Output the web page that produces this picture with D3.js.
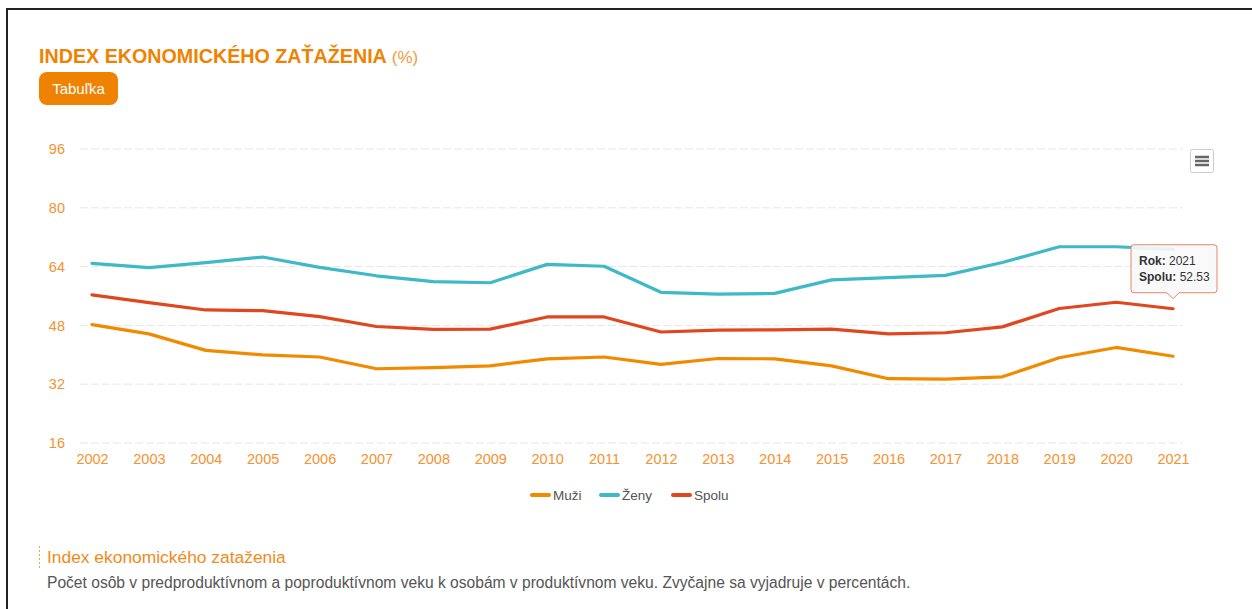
<!DOCTYPE html>
<html>
<head>
<meta charset="utf-8">
<script src="https://cdn.jsdelivr.net/npm/d3@7"></script>
<style>
    html, body { margin: 0; padding: 0; background: #fff; }
    body { width: 1252px; height: 609px; overflow: hidden; }
    svg { display: block; font-family: "Liberation Sans", Arial, Helvetica, sans-serif; }
</style>
</head>
<body>
<svg id="chart" width="1252" height="609"></svg>
<script>
// data
const years = [2002, 2003, 2004, 2005, 2006, 2007, 2008, 2009, 2010, 2011,
               2012, 2013, 2014, 2015, 2016, 2017, 2018, 2019, 2020, 2021];
const muzi  = [48.2, 45.7, 41.2, 40.0, 39.4, 36.2, 36.5, 37.0, 38.9, 39.4,
               37.4, 39.0, 38.9, 37.0, 33.5, 33.4, 34.0, 39.2, 42.0, 39.6];
const zeny  = [64.9, 63.7, 65.1, 66.6, 63.8, 61.5, 59.9, 59.6, 64.6, 64.1,
               57.0, 56.5, 56.7, 60.4, 61.0, 61.6, 65.1, 69.4, 69.4, 68.7];
const spolu = [56.3, 54.2, 52.2, 52.0, 50.4, 47.7, 46.9, 47.0, 50.3, 50.3,
               46.2, 46.7, 46.8, 47.0, 45.7, 46.0, 47.6, 52.6, 54.3, 52.53];
const yTicks = [16, 32, 48, 64, 80, 96];
const seriesNames = ['Muži', 'Ženy', 'Spolu'];
const seriesColors = ['#f28a00', '#3fb8c8', '#e0471f'];

const series = [muzi, zeny, spolu].map((vals, i) => ({
    name: seriesNames[i],
    color: seriesColors[i],
    values: vals.map((v, j) => ({year: years[j], value: v}))
}));

const orange = '#ef8200';
const labelColor = '#f5922f';

const svg = d3.select('#chart');

// frame
svg.append('path')
    .attr('d', 'M7,612 L7,9 L1260,9')
    .attr('fill', 'none')
    .attr('stroke', '#222')
    .attr('stroke-width', 2);

// title + button
const title = svg.append('text')
    .attr('x', 39).attr('y', 63)
    .attr('fill', orange)
    .style('font-size', '19.7px')
    .style('font-weight', 'bold');
title.append('tspan').text('INDEX EKONOMICKÉHO ZAŤAŽENIA');
title.append('tspan')
    .attr('dx', 5)
    .style('font-weight', 'normal')
    .style('font-size', '17px')
    .attr('fill', '#f39a3c')
    .text('(%)');

svg.append('rect')
    .attr('x', 39).attr('y', 72)
    .attr('width', 79).attr('height', 33)
    .attr('rx', 8)
    .attr('fill', orange);
svg.append('text')
    .attr('x', 78.5).attr('y', 94)
    .attr('text-anchor', 'middle')
    .attr('fill', '#fff')
    .style('font-size', '15px')
    .text('Tabuľka');

// scales
const x = d3.scalePoint().domain(years).range([92, 1173]);
const y = d3.scaleLinear().domain([16, 96]).range([443, 149]);

// grid
svg.append('g')
    .selectAll('line')
    .data(yTicks).enter()
    .append('line')
    .attr('x1', 80).attr('x2', 1183)
    .attr('y1', d => y(d)).attr('y2', d => y(d))
    .attr('stroke', '#e6e6e6')
    .attr('stroke-width', 1)
    .attr('stroke-dasharray', '8,3');

// y axis
const yAxis = d3.axisLeft(y).tickValues(yTicks).tickSize(0).tickPadding(0);
const gy = svg.append('g')
    .attr('transform', 'translate(65,0)')
    .call(yAxis);
gy.select('.domain').remove();
gy.selectAll('text')
    .attr('fill', labelColor)
    .style('font-size', '14.5px')
    .style('font-family', '"Liberation Sans", Arial, sans-serif');

// x axis
const xAxis = d3.axisBottom(x).tickSize(0).tickPadding(0);
const gx = svg.append('g')
    .attr('transform', 'translate(0,454)')
    .call(xAxis);
gx.select('.domain').remove();
gx.selectAll('text')
    .attr('dy', '0.71em')
    .attr('fill', labelColor)
    .style('font-size', '14.5px')
    .style('font-family', '"Liberation Sans", Arial, sans-serif');

// lines
const line = d3.line()
    .x(d => x(d.year))
    .y(d => y(d.value));

svg.append('g')
    .selectAll('path')
    .data(series).enter()
    .append('path')
    .attr('d', d => line(d.values))
    .attr('fill', 'none')
    .attr('stroke', d => d.color)
    .attr('stroke-width', 3.2)
    .attr('stroke-linejoin', 'round')
    .attr('stroke-linecap', 'round');

// legend
const legendX = [531, 600, 672];
const legend = svg.append('g')
    .selectAll('g')
    .data(series).enter()
    .append('g')
    .attr('transform', (d, i) => 'translate(' + legendX[i] + ',495)');
legend.append('line')
    .attr('x1', 1).attr('x2', 18)
    .attr('stroke', d => d.color)
    .attr('stroke-width', 4)
    .attr('stroke-linecap', 'round');
legend.append('text')
    .attr('x', 22).attr('y', 4.8)
    .attr('fill', '#555')
    .style('font-size', '13.5px')
    .text(d => d.name);

// tooltip on last Spolu point
const last = series[2].values[series[2].values.length - 1];
const px = x(last.year), py = y(last.value);
const bx = 1131, bw = 86, bh = 48;
const by = py - 16 - bh;
const tip = svg.append('g');
tip.append('path')
    .attr('d', 'M' + (bx + 3) + ',' + by +
        ' L' + (bx + bw - 3) + ',' + by +
        ' Q' + (bx + bw) + ',' + by + ' ' + (bx + bw) + ',' + (by + 3) +
        ' L' + (bx + bw) + ',' + (by + bh - 3) +
        ' Q' + (bx + bw) + ',' + (by + bh) + ' ' + (bx + bw - 3) + ',' + (by + bh) +
        ' L' + (px + 6) + ',' + (by + bh) +
        ' L' + px + ',' + (by + bh + 6) +
        ' L' + (px - 6) + ',' + (by + bh) +
        ' L' + (bx + 3) + ',' + (by + bh) +
        ' Q' + bx + ',' + (by + bh) + ' ' + bx + ',' + (by + bh - 3) +
        ' L' + bx + ',' + (by + 3) +
        ' Q' + bx + ',' + by + ' ' + (bx + 3) + ',' + by + ' Z')
    .attr('fill', 'rgba(248,248,248,0.9)')
    .attr('stroke', '#e8826a')
    .attr('stroke-width', 1);
const t1 = tip.append('text')
    .attr('x', bx + 8).attr('y', by + 20)
    .attr('fill', '#333')
    .style('font-size', '12px');
t1.append('tspan').style('font-weight', 'bold').text('Rok:');
t1.append('tspan').text(' ' + last.year);
const t2 = tip.append('text')
    .attr('x', bx + 8).attr('y', by + 36)
    .attr('fill', '#333')
    .style('font-size', '12px');
t2.append('tspan').style('font-weight', 'bold').text('Spolu:');
t2.append('tspan').text(' ' + last.value.toFixed(2));

// export menu button
const menu = svg.append('g').attr('transform', 'translate(1190,149)');
menu.append('rect')
    .attr('x', 0.5).attr('y', 0.5)
    .attr('width', 23).attr('height', 23)
    .attr('rx', 2)
    .attr('fill', '#fff')
    .attr('stroke', '#ccc');
menu.selectAll('line.bar')
    .data([8, 12, 16]).enter()
    .append('line')
    .attr('x1', 5).attr('x2', 19)
    .attr('y1', d => d).attr('y2', d => d)
    .attr('stroke', '#666')
    .attr('stroke-width', 2.5);

// note below the chart
svg.append('line')
    .attr('x1', 39.5).attr('x2', 39.5)
    .attr('y1', 546).attr('y2', 568)
    .attr('stroke', '#f5a04a')
    .attr('stroke-dasharray', '2,2');
svg.append('text')
    .attr('x', 47).attr('y', 563)
    .attr('fill', '#f28a1a')
    .style('font-size', '17.4px')
    .text('Index ekonomického zataženia');
svg.append('text')
    .attr('x', 47).attr('y', 588)
    .attr('fill', '#555')
    .style('font-size', '15.6px')
    .text('Počet osôb v predproduktívnom a poproduktívnom veku k osobám v produktívnom veku. Zvyčajne sa vyjadruje v percentách.');
</script>
</body>
</html>
